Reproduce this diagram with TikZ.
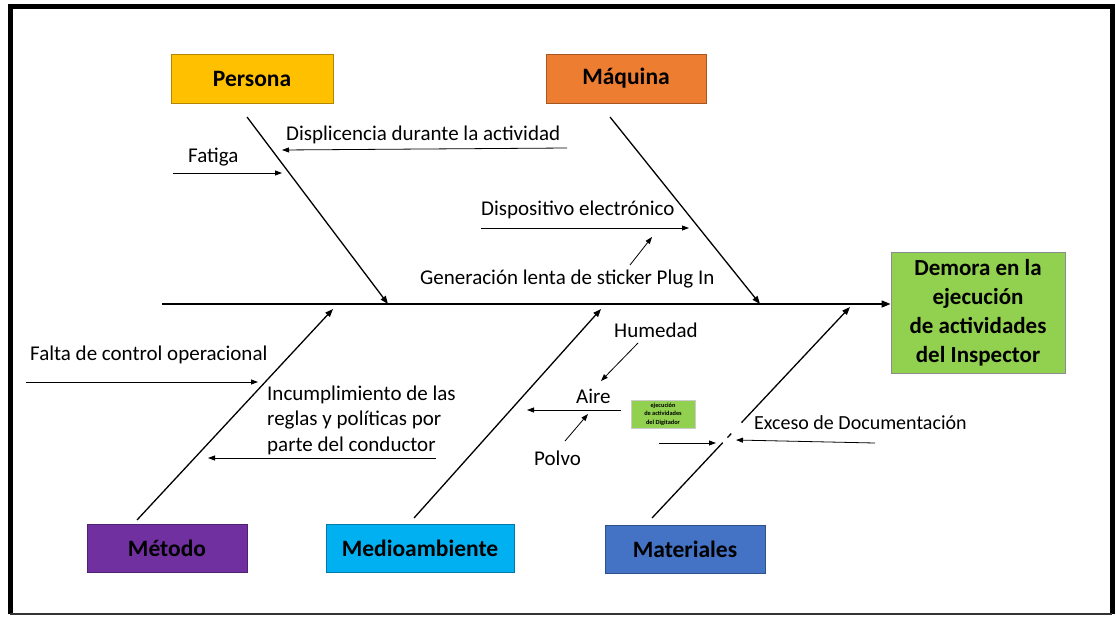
\documentclass[tikz,border=0pt]{standalone}
\usepackage{fontspec}
\setmainfont{Carlito}
\usetikzlibrary{arrows.meta,positioning,calc}
\definecolor{cpersona}{HTML}{FFC000}
\definecolor{cmaquina}{HTML}{ED7D31}
\definecolor{cmetodo}{HTML}{7030A0}
\definecolor{cmedio}{HTML}{00B0F0}
\definecolor{cmater}{HTML}{4472C4}
\definecolor{cefecto}{HTML}{92D050}
\begin{document}
\begin{tikzpicture}[x=1pt,y=-1pt,
        every node/.style = {inner sep=0pt, font=\fontsize{21}{25.5}\selectfont},
        catbox/.style = {draw=#1!70!black, fill=#1, line width=0.9pt,
            minimum width=160pt, minimum height=48pt,
            font=\bfseries\fontsize{23.5}{28}\selectfont},
        cause/.style = {anchor=west, align=left},
        spine/.style = {line width=1.6pt, -{Triangle[length=9pt,width=7pt]}},
        bone/.style = {line width=1.3pt, -{Triangle[length=8pt,width=6pt]}},
        twig/.style = {line width=0.8pt, -{Triangle[length=7pt,width=5pt]}}]
    \useasboundingbox (0,0) rectangle (1116,616);
    \fill[white] (0,0) rectangle (1116,616);
    \draw[line width=5pt] (10,614) -- (10,6) -- (1112,6) -- (1112,614);
    \draw[line width=1.5pt, black!80] (10,614) -- (1112,614);

    % categorias y efecto
    \node[catbox=cpersona, minimum width=162pt, minimum height=49pt] (persona) at (252,78.5) {Persona};
    \node[catbox=cmaquina, minimum height=49pt] (maquina) at (626,78.5) {Máquina};
    \node[catbox=cmetodo] (metodo) at (167,548.5) {Método};
    \node[catbox=cmedio, minimum width=188pt] (medio) at (420,548) {Medioambiente};
    \node[catbox=cmater] (mater) at (685,549) {Materiales};
    \node[draw=black!45, fill=cefecto, line width=0.9pt, minimum width=174pt,
        minimum height=121pt, align=center,
        font=\bfseries\fontsize{23}{29}\selectfont] (efecto) at (978,312.5)
        {Demora en la\\ejecución\\de actividades\\del Inspector};

    % espina
    \coordinate (tail) at (162,304);
    \draw[spine] (tail) -- (tail -| efecto.west);

    \coordinate (pb) at (247,117);   \coordinate (ph) at (388,304);
    \coordinate (mb) at (610,117);   \coordinate (mh) at (760,304);
    \coordinate (tb) at (137,520);   \coordinate (th) at (333,309);
    \coordinate (ab) at (414,518);   \coordinate (ah) at (601,309);
    \coordinate (lb) at (652,518);   \coordinate (lh) at (850,307);
    \draw[bone] (pb) -- (ph);
    \draw[bone] (mb) -- (mh);
    \draw[bone] (tb) -- (th);
    \draw[bone] (ab) -- (ah);
    \draw[line width=1.3pt] (lb) -- ($(lb)!0.357!(lh)$);
    \draw[line width=1.3pt] ($(lb)!0.381!(lh)$) -- ($(lb)!0.40!(lh)$);
    \draw[bone] ($(lb)!0.452!(lh)$) -- (lh);

    % causas
    \node[cause] (fatiga) at (188,157) {Fatiga};
    \coordinate (f1) at (173,173);   \coordinate (f2) at (282,173);
    \draw[twig] (f1) -- (f2);

    \node[cause] (displ) at (286,135) {Displicencia durante la actividad};
    \coordinate (d1) at (567,148);   \coordinate (d2) at (282,150);
    \draw[twig] (d1) -- (d2);

    \node[cause] (dispo) at (481,210) {Dispositivo electrónico};
    \coordinate (e1) at (481,228);   \coordinate (e2) at (689,228);
    \draw[twig] (e1) -- (e2);

    \node[cause] (gener) at (420,279) {Generación lenta de sticker Plug In};
    \coordinate (g1) at (630,265);   \coordinate (g2) at (652,237);
    \draw[twig] (g1) -- (g2);

    \node[cause] (falta) at (30,355) {Falta de control operacional};
    \coordinate (c1) at (26,382);    \coordinate (c2) at (258,382);
    \draw[twig] (c1) -- (c2);

    \node[cause] (incum) at (267,420) {Incumplimiento de las\\reglas y políticas por\\parte del conductor};
    \coordinate (i1) at (436,458);   \coordinate (i2) at (208,458);
    \draw[twig] (i1) -- (i2);

    \node[cause] (humedad) at (614,330) {Humedad};
    \coordinate (h1) at (638,343);   \coordinate (h2) at (601,381);
    \draw[twig] (h1) -- (h2);

    \node[cause] (aire) at (576,396) {Aire};
    \coordinate (a1) at (621,410);   \coordinate (a2) at (527,410);
    \draw[twig] (a1) -- (a2);

    \node[cause] (polvo) at (534,458) {Polvo};
    \coordinate (p1) at (565,441);   \coordinate (p2) at (588,414);
    \draw[twig] (p1) -- (p2);

    \node[fill=cefecto, draw=black!20, minimum width=64pt, minimum height=28pt,
        align=center, font=\bfseries\fontsize{6.3}{8.5}\selectfont] (digit) at (663,414)
        {ejecución\\de actividades\\del Digitador};

    \node[cause, font=\fontsize{20}{24}\selectfont] (exceso) at (754,423) {Exceso de Documentación};
    \coordinate (x1) at (875,443);   \coordinate (x2) at (736,440);
    \draw[twig] (x1) -- (x2);
    \coordinate (y1) at (659,443);   \coordinate (y2) at (716,443);
    \draw[twig] (y1) -- (y2);
\end{tikzpicture}
\end{document}
